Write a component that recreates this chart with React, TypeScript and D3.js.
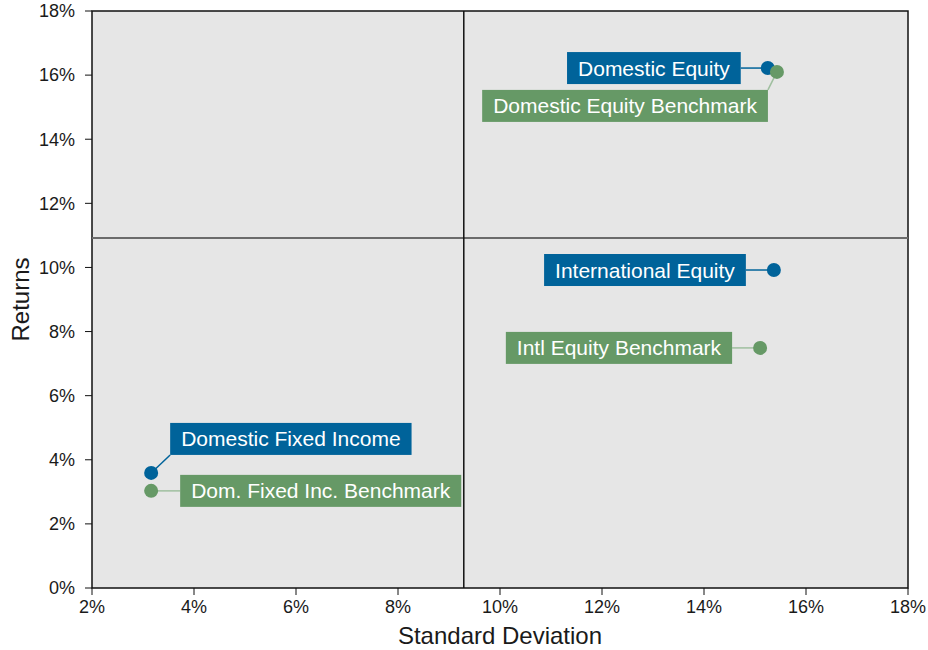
import React from 'react'
import * as d3 from 'd3'

// portfolio points: standard deviation (%) vs return (%)
const names = [
  'Domestic Equity',
  'Domestic Equity Benchmark',
  'International Equity',
  'Intl Equity Benchmark',
  'Domestic Fixed Income',
  'Dom. Fixed Inc. Benchmark',
]
const stdDevs = [15.25, 15.43, 15.37, 15.1, 3.16, 3.16]
const returns = [16.22, 16.1, 9.92, 7.49, 3.59, 3.03]
const isBenchmark = [false, true, false, true, false, true]

const xTicks = [2, 4, 6, 8, 10, 12, 14, 16, 18]
const yTicks = [0, 2, 4, 6, 8, 10, 12, 14, 16, 18]

// quadrant dividers
const splitX = 9.29
const splitY = 10.92

// where each label box sits relative to its point
const labelLayout: Record<string, { side: 'left' | 'right'; dx: number; dy: number }> = {
  'Domestic Equity': { side: 'left', dx: -27, dy: 0 },
  'Domestic Equity Benchmark': { side: 'left', dx: -9, dy: 34 },
  'International Equity': { side: 'left', dx: -28, dy: 0 },
  'Intl Equity Benchmark': { side: 'left', dx: -28, dy: 0 },
  'Domestic Fixed Income': { side: 'right', dx: 19, dy: -34 },
  'Dom. Fixed Inc. Benchmark': { side: 'right', dx: 29, dy: 0 },
}

const FONT = 'Liberation Sans, Arial, Helvetica, sans-serif'
const BLUE = '#00639a'
const GREEN = '#669966'

let ctx: CanvasRenderingContext2D | null = null
function textWidth(s: string, size: number) {
  if (!ctx) ctx = document.createElement('canvas').getContext('2d')
  if (!ctx) return s.length * size * 0.55
  ctx.font = `${size}px ${FONT}`
  return ctx.measureText(s).width
}

function App() {
  const width = 928
  const height = 650
  const margin = { top: 11, right: 20, bottom: 62, left: 92 }
  const innerW = width - margin.left - margin.right
  const innerH = height - margin.top - margin.bottom

  const xScale = d3.scaleLinear().domain([2, 18]).range([0, innerW])
  const yScale = d3.scaleLinear().domain([0, 18]).range([innerH, 0])
  const fmt = (d: number) => `${d}%`

  const labelSize = 21
  const padX = 11
  const boxH = 32

  const points = names.map((name, i) => {
    const px = xScale(stdDevs[i])
    const py = yScale(returns[i])
    const lay = labelLayout[name]
    const bw = textWidth(name, labelSize) + padX * 2
    const bx = lay.side === 'left' ? px + lay.dx - bw : px + lay.dx
    const by = py + lay.dy - boxH / 2
    // connector goes to the nearest point of the box
    const cx = Math.max(bx, Math.min(px, bx + bw))
    const cy = Math.max(by, Math.min(py, by + boxH))
    return { name, px, py, bx, by, bw, cx, cy, bench: isBenchmark[i] }
  })

  return (
    <svg width={width} height={height} style={{ position: 'absolute', left: 0, top: 0 }} fontFamily={FONT}>
      <g transform={`translate(${margin.left} ${margin.top})`}>
        <rect width={innerW} height={innerH} fill="#e6e6e6" stroke="#111" strokeWidth="1.5" />

        {/* quadrant lines */}
        <line x1={0} x2={innerW} y1={yScale(splitY)} y2={yScale(splitY)} stroke="#6b6b6b" strokeWidth="2" />
        <line x1={xScale(splitX)} x2={xScale(splitX)} y1={0} y2={innerH} stroke="#111" strokeWidth="1.5" />

        {/* y axis */}
        {yTicks.map(t => (
          <g key={t} transform={`translate(0 ${yScale(t)})`}>
            <line x1={-7} x2={0} stroke="#111" strokeWidth="1" />
            <text x={-17} dy="0.35em" textAnchor="end" fontSize="18" fill="#1a1a1a">{fmt(t)}</text>
          </g>
        ))}
        {/* x axis */}
        {xTicks.map(t => (
          <g key={t} transform={`translate(${xScale(t)} ${innerH})`}>
            <line y1={0} y2={7} stroke="#111" strokeWidth="1" />
            <text y={25} textAnchor="middle" fontSize="18" fill="#1a1a1a">{fmt(t)}</text>
          </g>
        ))}

        {/* connectors and labels */}
        {points.map(p => (
          <g key={p.name}>
            <line x1={p.px} y1={p.py} x2={p.cx} y2={p.cy}
              stroke={p.bench ? '#9fbf9f' : BLUE} strokeWidth="1.5" />
            <rect x={p.bx} y={p.by} width={p.bw} height={boxH} fill={p.bench ? GREEN : BLUE} />
            <text x={p.bx + padX} y={p.by + boxH / 2} dy="0.36em" fontSize={labelSize} fill="#fff">{p.name}</text>
          </g>
        ))}
        {points.map(p => (
          <circle key={p.name} cx={p.px} cy={p.py} r={7} fill={p.bench ? GREEN : BLUE} />
        ))}

        <text x={innerW / 2} y={innerH + 56} textAnchor="middle" fontSize="24" fill="#1a1a1a">Standard Deviation</text>
        <text transform={`translate(-63 ${innerH / 2}) rotate(-90)`} textAnchor="middle" fontSize="24" fill="#1a1a1a">Returns</text>
      </g>
    </svg>
  )
}

export default App
